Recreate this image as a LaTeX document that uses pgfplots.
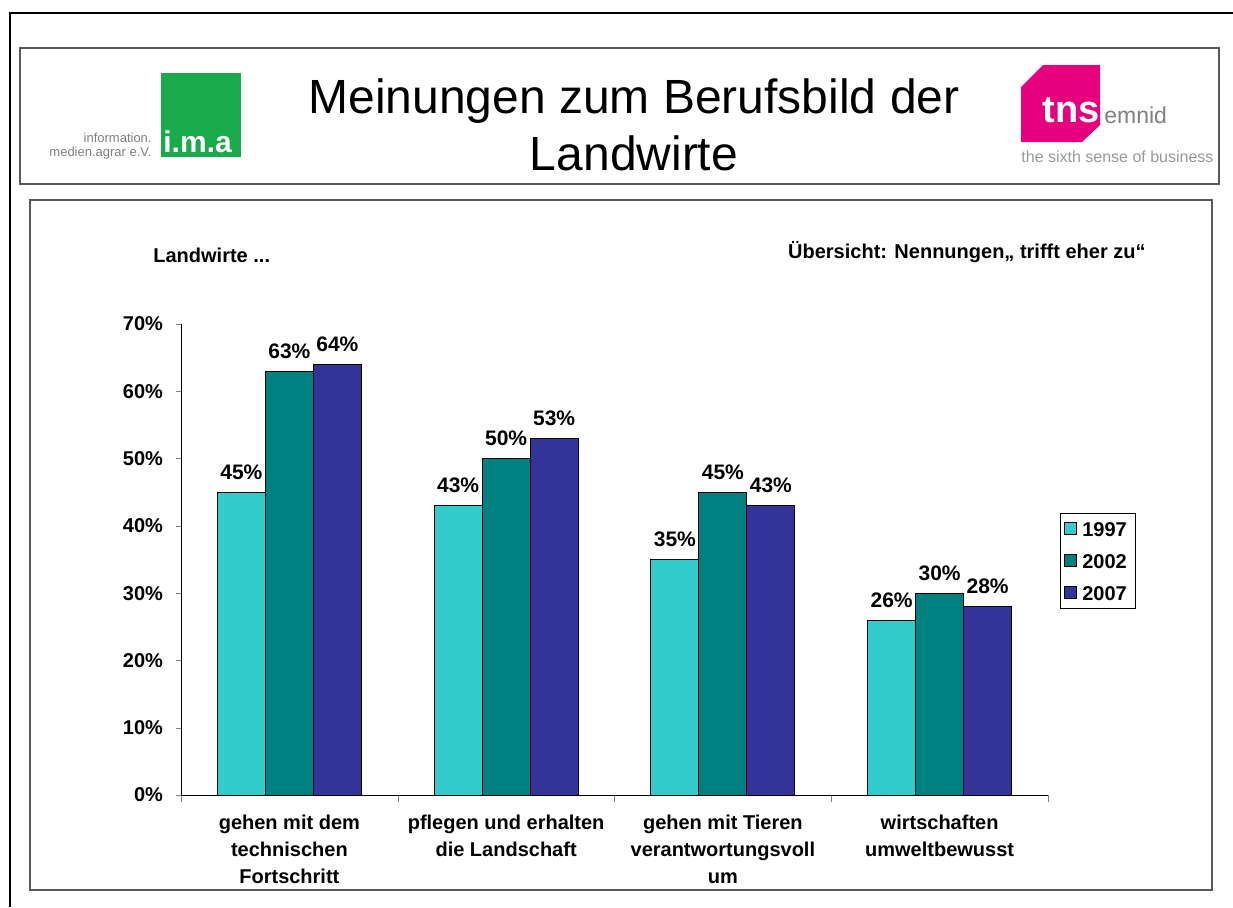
\documentclass[border=0pt]{standalone}
\usepackage{fontspec}
\setmainfont{Liberation Sans}
\usepackage{pgfplots}
\pgfplotsset{compat=1.18}

\definecolor{c97}{HTML}{33CCCC}
\definecolor{c02}{HTML}{008080}
\definecolor{c07}{HTML}{333399}
\definecolor{imagreen}{HTML}{1BAA4B}
\definecolor{tnspink}{HTML}{E6007E}

\begin{document}
\begin{tikzpicture}
\path[use as bounding box] (0,0) rectangle (616.5pt,-453.5pt);

% slide frame, header and logos, in pixel units of the reference
\begin{scope}[x=0.5pt,y=-0.5pt]
\draw[line width=1pt] (10,907) -- (10,13) -- (1233,13);
\draw[gray!70!black,line width=0.6pt] (20,48) rectangle (1219,184);
\draw[gray!70!black,line width=0.6pt] (30,200) rectangle (1212,890);

% ima logo
\fill[imagreen] (161,73) rectangle (241,157);
\node[anchor=base west,inner sep=0,text=white,font=\bfseries\fontsize{15}{15}\selectfont] at (163,152) {i.m.a};
\node[anchor=base east,inner sep=0,text=gray,font=\fontsize{6.5}{7}\selectfont] at (152,142) {information.};
\node[anchor=base east,inner sep=0,text=gray,font=\fontsize{6.5}{7}\selectfont] at (152,156) {medien.agrar e.V.};

% title
\node[anchor=base,inner sep=0,font=\fontsize{24}{28}\selectfont] at (634,113) {Meinungen zum Berufsbild der};
\node[anchor=base,inner sep=0,font=\fontsize{24}{28}\selectfont] at (634,170) {Landwirte};

% tns logo
\fill[tnspink] (1021,87) -- (1043,65) -- (1100,65) -- (1100,125) -- (1082,142) -- (1021,142) -- cycle;
\node[anchor=base west,inner sep=0,text=white,font=\bfseries\fontsize{19}{19}\selectfont] at (1042,122) {tns};
\node[anchor=base west,inner sep=0,text=gray,font=\fontsize{11.5}{12}\selectfont] at (1104,123) {emnid};
\node[anchor=base west,inner sep=0,text=gray!80,font=\fontsize{8}{9}\selectfont] at (1021,162) {the sixth sense of business};

% chart captions
\node[anchor=base west,inner sep=0,font=\bfseries\fontsize{10}{12}\selectfont] at (153,262) {Landwirte ...};
\node[anchor=base east,inner sep=0,font=\bfseries\fontsize{10}{12}\selectfont] at (1146,258) {Übersicht: Nennungen„ trifft eher zu“};
\end{scope}

\begin{axis}[
  at={(90.5pt,-397.5pt)}, anchor=south west,
  scale only axis, width=433.5pt, height=235.5pt,
  ybar=0pt, bar width=24pt,
  xmin=-0.5, xmax=3.5, ymin=0, ymax=70,
  axis lines*=left,
  clip=false,
  tick align=outside,
  major tick length=2.5pt, minor tick length=3.5pt,
  xtick={0,1,2,3},
  major x tick style={draw=none},
  minor xtick={-0.5,0.5,1.5,2.5,3.5},
  xticklabels={{gehen mit dem\\technischen\\Fortschritt},{pflegen und erhalten\\die Landschaft},{gehen mit Tieren\\verantwortungsvoll\\um},{wirtschaften\\umweltbewusst}},
  xticklabel style={align=center,font=\bfseries\fontsize{10}{13.5}\selectfont,yshift=-4pt},
  ytick={0,10,...,70},
  yticklabel={\pgfmathprintnumber[assume math mode=true]{\tick}\%},
  yticklabel style={font=\bfseries\fontsize{10}{12}\selectfont,xshift=-3pt},
  every axis plot/.append style={draw=black,line width=0.5pt},
  nodes near coords={\pgfmathprintnumber[assume math mode=true]{\pgfplotspointmeta}\%},
  nodes near coords style={font=\bfseries\fontsize{10.5}{12}\selectfont,inner sep=0pt,anchor=south,yshift=6pt},
  legend style={at={(1.0138,0.5987)},anchor=north west,draw=black,
    font=\bfseries\fontsize{10}{12}\selectfont,
    row sep=6.5pt, inner xsep=2pt, inner ysep=3pt,
    nodes={inner xsep=2.5pt,inner ysep=1pt,text height=7.5pt,text depth=0pt}},
  legend cell align=left,
  legend image code/.code={\draw[#1,draw=black,line width=0.5pt] (0pt,-3pt) rectangle (6pt,3pt);},
]
\addplot[fill=c97] coordinates {(0,45) (1,43) (2,35) (3,26)};
\addplot[fill=c02] coordinates {(0,63) (1,50) (2,45) (3,30)};
\addplot[fill=c07] coordinates {(0,64) (1,53) (2,43) (3,28)};
\legend{1997,2002,2007}
\end{axis}
\end{tikzpicture}
\end{document}
